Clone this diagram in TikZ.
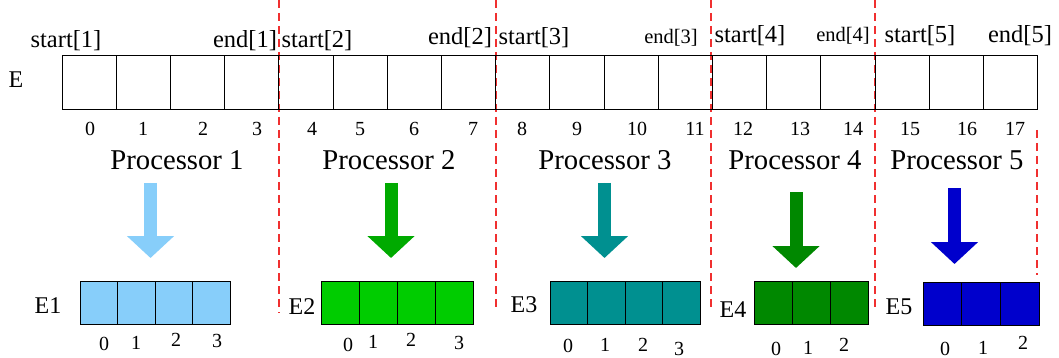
\documentclass[tikz,border=0pt]{standalone}
\usepackage{fontspec}
\setmainfont{Liberation Serif}
\newfontfamily\tms{Liberation Serif}
\usetikzlibrary{arrows.meta}
\definecolor{cEa}{HTML}{87CEFA}
\definecolor{cEb}{HTML}{00CC00}
\definecolor{cEc}{HTML}{009090}
\definecolor{cEd}{HTML}{008800}
\definecolor{cEe}{HTML}{0000CC}
\definecolor{arrb}{HTML}{00AA00}
\definecolor{sepred}{HTML}{F03030}
\begin{document}
\begin{tikzpicture}[x=1pt,y=-1pt,
  cell/.style={draw=black, line width=0.9pt, minimum width=54.2pt, minimum height=54pt,
    inner sep=0pt, outer sep=0pt, anchor=north west},
  scell/.style={draw=black, line width=0.8pt, minimum height=43pt,
    inner sep=0pt, outer sep=0pt, anchor=north west},
  lbl/.style={inner sep=0pt, font=\tms\fontsize{24.5}{28}\selectfont},
  slbl/.style={inner sep=0pt, font=\tms\fontsize{20.5}{24}\selectfont},
  idx/.style={inner sep=0pt, font=\tms\fontsize{20}{24}\selectfont},
  proc/.style={inner sep=0pt, font=\tms\fontsize{28.7}{32}\selectfont},
  arrname/.style={inner sep=0pt, font=\tms\fontsize{24}{28}\selectfont},
  parrow/.style={line width=13pt, -{Triangle[length=22pt,width=46pt]}},
  sepline/.style={draw=sepred, line width=1.2pt, dash pattern=on 8pt off 5pt}]
\useasboundingbox (0,0) rectangle (1059,358);

% separators
\draw[sepline] (279,0) -- (279,313);
\draw[sepline] (496,0) -- (496,307);
\draw[sepline] (711,0) -- (711,307);
\draw[sepline] (875,0) -- (875,307);
\draw[sepline] (1037,130) -- (1037,275);

% main array
\node[arrname] (E) at (16,80) {E};
\foreach \i in {0,...,17} {
  \node[cell] (c\i) at ({62+54.2*\i},55) {};
}
\foreach \x [count=\i from 0] in {90,143,203,257,312,360,414,473,522,577,637,695,743,800,853,910,967,1015} {
  \node[idx] (n\i) at (\x,129) {\i};
}

% start / end labels
\node[lbl] (s1) at (66,41) {start[1]};
\node[lbl] (e1) at (245,41) {end[1]};
\node[lbl] (s2) at (317,41) {start[2]};
\node[lbl] (e2) at (460,37.5) {end[2]};
\node[lbl] (s3) at (534,37.5) {start[3]};
\node[slbl] (e3) at (671,37.5) {end[3]};
\node[lbl] (s4) at (750,36) {start[4]};
\node[slbl] (e4) at (843,36) {end[4]};
\node[lbl] (s5) at (920,36) {start[5]};
\node[lbl] (e5) at (1020,36) {end[5]};

% processors
\node[proc] (p1) at (177,160) {Processor 1};
\node[proc] (p2) at (389,160) {Processor 2};
\node[proc] (p3) at (605,160) {Processor 3};
\node[proc] (p4) at (795,160) {Processor 4};
\node[proc] (p5) at (957,160) {Processor 5};

% arrows
\coordinate (a1s) at (150.5,183); \coordinate (a1e) at (150.5,258);
\coordinate (a2s) at (391,183);   \coordinate (a2e) at (391,258);
\coordinate (a3s) at (604.5,183); \coordinate (a3e) at (604.5,258);
\coordinate (a4s) at (796,192);   \coordinate (a4e) at (796,268);
\coordinate (a5s) at (954.5,188); \coordinate (a5e) at (954.5,264);
\draw[parrow, draw=cEa, fill=cEa] (a1s) -- (a1e);
\draw[parrow, draw=arrb, fill=arrb] (a2s) -- (a2e);
\draw[parrow, draw=cEc, fill=cEc] (a3s) -- (a3e);
\draw[parrow, draw=cEd, fill=cEd] (a4s) -- (a4e);
\draw[parrow, draw=cEe, fill=cEe] (a5s) -- (a5e);

% small arrays
\foreach \i in {0,...,3} \node[scell, fill=cEa, minimum width=37.5pt] (ea\i) at ({80+37.5*\i},281) {};
\foreach \i in {0,...,3} \node[scell, fill=cEb, minimum width=38pt] (eb\i) at ({321+38*\i},281) {};
\foreach \i in {0,...,3} \node[scell, fill=cEc, minimum width=37.5pt] (ec\i) at ({550+37.5*\i},281) {};
\foreach \i in {0,...,2} \node[scell, fill=cEd, minimum width=38pt] (ed\i) at ({754+38*\i},281) {};
\foreach \i in {0,...,2} \node[scell, fill=cEe, minimum width=38.7pt] (ee\i) at ({923+38.7*\i},282) {};

\node[arrname] (L1) at (48,306) {E1};
\node[arrname] (L2) at (302,307) {E2};
\node[arrname] (L3) at (524,305) {E3};
\node[arrname] (L4) at (733,310) {E4};
\node[arrname] (L5) at (899,307) {E5};

\node[idx] (ia0) at (104,344) {0};
\node[idx] (ia1) at (136,343) {1};
\node[idx] (ia2) at (176,340) {2};
\node[idx] (ia3) at (217,340.5) {3};
\node[idx] (ib0) at (348,345) {0};
\node[idx] (ib1) at (373,341.5) {1};
\node[idx] (ib2) at (411,340) {2};
\node[idx] (ib3) at (459,343) {3};
\node[idx] (ic0) at (568,346) {0};
\node[idx] (ic1) at (605,345) {1};
\node[idx] (ic2) at (643,345) {2};
\node[idx] (ic3) at (679,349) {3};
\node[idx] (id0) at (776,348.5) {0};
\node[idx] (id1) at (808,348) {1};
\node[idx] (id2) at (844,345) {2};
\node[idx] (ie0) at (945,348.5) {0};
\node[idx] (ie1) at (983,348) {1};
\node[idx] (ie2) at (1023,343) {2};
\end{tikzpicture}
\end{document}
